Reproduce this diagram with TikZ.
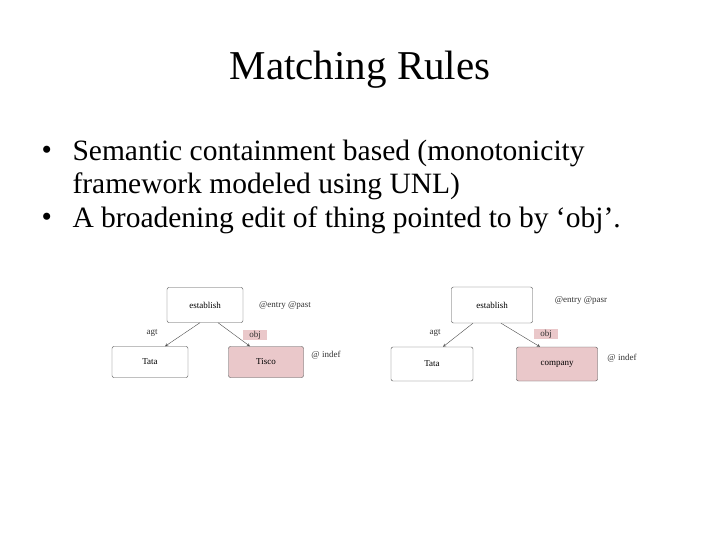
\documentclass[tikz,border=0pt]{standalone}
\usepackage{fontspec}
\setmainfont{Liberation Serif}
\definecolor{objpink}{RGB}{234,200,202}
\begin{document}
\begin{tikzpicture}[x=1pt,y=-1pt,
  box/.style={draw=black!70, rounded corners=2pt, inner sep=0pt},
  lbl/.style={font=\fontsize{9}{10}\selectfont, text=black!80},
  body/.style={anchor=west, font=\fontsize{29.5}{32}\selectfont},
  edge/.style={->, >=stealth, black!70, thin}]
\useasboundingbox (0,0) rectangle (720,540);

%Title and bullets
\node (title) at (360,70) {\fontsize{41}{45}\selectfont Matching Rules};
\node[body] (b1) at (38,153) {\textbullet};
\node[body] (t1) at (69,153) {Semantic containment based (monotonicity};
\node[body] (t1b) at (69,186) {framework modeled using UNL)};
\node[body] (b2) at (38,220) {\textbullet};
\node[body] (t2) at (69,220) {A broadening edit of thing pointed to by ‘obj’.};

%Left graph
\node[box, minimum width=76, minimum height=35] (estL) at (205,305) {\fontsize{9}{10}\selectfont establish};
\node[box, minimum width=76, minimum height=31] (tataL) at (150,362) {\fontsize{9}{10}\selectfont Tata};
\node[box, fill=objpink, minimum width=75, minimum height=31] (tiscoL) at (266,362) {\fontsize{9}{10}\selectfont Tisco};
\node[lbl] (attrL) at (285,305) {@entry @past};
\node[lbl] (indefL) at (326,355) {@ indef};
\node[lbl] (agtL) at (152,333) {agt};
\node[lbl, fill=objpink, minimum width=24, inner sep=1pt] (objL) at (255,335) {obj};
\draw[edge] (estL.south -| 200,0) -- (tataL.north -| 165,0);
\draw[edge] (estL.south -| 218,0) -- (tiscoL.north -| 250,0);

%Right graph
\node[box, minimum width=81, minimum height=36] (estR) at (492,305) {\fontsize{9}{10}\selectfont establish};
\node[box, minimum width=82, minimum height=34] (tataR) at (432,364) {\fontsize{9}{10}\selectfont Tata};
\node[box, fill=objpink, minimum width=81, minimum height=34] (compR) at (557,364) {\fontsize{9}{10}\selectfont company};
\node[lbl] (attrR) at (581,300) {@entry @pasr};
\node[lbl] (indefR) at (622,358) {@ indef};
\node[lbl] (agtR) at (435,333) {agt};
\node[lbl, fill=objpink, minimum width=24, inner sep=1pt] (objR) at (546,334) {obj};
\draw[edge] (estR.south -| 473,0) -- (tataR.north -| 443,0);
\draw[edge] (estR.south -| 501,0) -- (compR.north -| 540,0);
\end{tikzpicture}
\end{document}
